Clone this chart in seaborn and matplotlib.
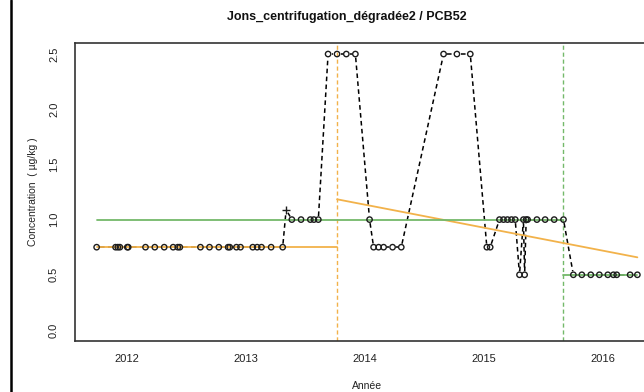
import numpy as np
import pandas as pd
import seaborn as sns
import matplotlib.pyplot as plt
from matplotlib.lines import Line2D

# === Données ===
annees = [
    2011.749, 2011.908, 2011.927, 2011.944, 2012.006, 2012.014, 2012.159, 2012.237,
    2012.316, 2012.391, 2012.430, 2012.447, 2012.620, 2012.696, 2012.774, 2012.852,
    2012.866, 2012.922, 2012.956, 2013.059, 2013.096, 2013.132, 2013.213, 2013.310,
    2013.339,
    2013.387, 2013.464, 2013.542, 2013.572, 2013.609,
    2013.691, 2013.766, 2013.844, 2013.920,
    2014.039, 2014.073, 2014.115, 2014.157, 2014.232, 2014.305,
    2014.660, 2014.772, 2014.884,
    2015.023, 2015.051,
    2015.129, 2015.163, 2015.196, 2015.230, 2015.261, 2015.297, 2015.330, 2015.340,
    2015.353, 2015.365, 2015.443, 2015.512, 2015.588, 2015.666,
    2015.749, 2015.820, 2015.895, 2015.967, 2016.038, 2016.085, 2016.113, 2016.225,
    2016.286,
]
concentrations = [
    0.75, 0.75, 0.75, 0.75, 0.75, 0.75, 0.75, 0.75,
    0.75, 0.75, 0.75, 0.75, 0.75, 0.75, 0.75, 0.75,
    0.75, 0.75, 0.75, 0.75, 0.75, 0.75, 0.75, 0.75,
    1.09,
    1.0, 1.0, 1.0, 1.0, 1.0,
    2.5, 2.5, 2.5, 2.5,
    1.0, 0.75, 0.75, 0.75, 0.75, 0.75,
    2.5, 2.5, 2.5,
    0.75, 0.75,
    1.0, 1.0, 1.0, 1.0, 1.0, 0.5, 1.0, 0.5,
    1.0, 1.0, 1.0, 1.0, 1.0, 1.0,
    0.5, 0.5, 0.5, 0.5, 0.5, 0.5, 0.5, 0.5,
    0.5,
]
# point marqué d'une croix (index dans la série)
idx_croix = [24]

# ruptures
rupture_orange = 2013.766
rupture_verte = 2015.666

# segments orange (tendance)
orange1_x = [2011.749, 2013.766]
orange1_y = [0.75, 0.75]
orange2_x = [2013.766, 2016.286]
orange2_y = [1.184, 0.658]

# segments verts (moyennes)
vert1_x = [2011.749, 2015.666]
vert1_y = [1.0, 1.0]
vert2_x = [2015.666, 2016.286]
vert2_y = [0.5, 0.5]

ANNEES_TICKS = [2012, 2013, 2014, 2015, 2016]
CONC_TICKS = [0.0, 0.5, 1.0, 1.5, 2.0, 2.5]

ORANGE = "#f2b24a"
VERT = "#74b96a"
GAP_PX = 3.6  # espace autour des points, comme type = "b" dans R

sns.set_style("white")
plt.rcParams["font.family"] = ["Liberation Sans", "DejaVu Sans"]

df = pd.DataFrame({"annee": annees, "conc": concentrations})
croix = df.index.isin(idx_croix)

fig = plt.figure(figsize=(6.44, 3.92), dpi=100)
ax = fig.add_axes([75 / 644, 51 / 392, 584 / 644, 298 / 392])
ax.set_xlim(2011.5675, 2016.4675)
ax.set_ylim(-0.1, 2.6)

# lignes verticales de rupture
ax.axvline(rupture_orange, color=ORANGE, lw=1.0, ls=(0, (3, 2)), zorder=1)
ax.axvline(rupture_verte, color=VERT, lw=1.0, ls=(0, (3, 2)), zorder=1)

# série observée : segments pointillés raccourcis autour de chaque point
pix = ax.transData.transform(df[["annee", "conc"]].to_numpy())
inv = ax.transData.inverted()
for i in range(len(pix) - 1):
    p0, p1 = pix[i], pix[i + 1]
    d = p1 - p0
    n = np.hypot(*d)
    if n <= 2 * GAP_PX + 1:
        continue
    u = d / n
    seg = inv.transform(np.array([p0 + u * GAP_PX, p1 - u * GAP_PX]))
    sns.lineplot(x=seg[:, 0], y=seg[:, 1], sort=False, estimator=None,
                 color="black", lw=1.1, ls=(0, (3, 2.2)), ax=ax, zorder=2)

# moyennes / tendances
for xs, ys, c in [(orange1_x, orange1_y, ORANGE), (orange2_x, orange2_y, ORANGE),
                  (vert1_x, vert1_y, VERT), (vert2_x, vert2_y, VERT)]:
    sns.lineplot(x=xs, y=ys, color=c, lw=1.3, ax=ax, zorder=3)

# points
sns.scatterplot(data=df[~croix], x="annee", y="conc", marker="o", s=15,
                facecolor="none", edgecolor="#1c1c1c", linewidth=1.0, ax=ax, zorder=4)
sns.scatterplot(data=df[croix], x="annee", y="conc", marker="+", s=30,
                color="#1c1c1c", linewidth=1.0, ax=ax, zorder=4)

ax.set_xlim(2011.5675, 2016.4675)
ax.set_ylim(-0.1, 2.6)
ax.set_xticks(ANNEES_TICKS)
ax.set_yticks(CONC_TICKS)
ax.set_xticklabels([str(a) for a in ANNEES_TICKS])
ax.set_yticklabels([f"{v:.1f}" for v in CONC_TICKS], rotation=90, va="center")
ax.tick_params(axis="both", direction="out", length=4.5, width=1.0,
               color="#333333", labelsize=8, labelcolor="#222222")
ax.tick_params(axis="x", pad=5)
ax.tick_params(axis="y", pad=7)
for s in ax.spines.values():
    s.set_color("#333333")
    s.set_linewidth(1.2)
ax.set_xlabel("")
ax.set_ylabel("")

fig.text(33 / 644, 1 - 192 / 392, "Concentration  ( µg/kg )", rotation=90,
         ha="center", va="center", fontsize=7.5, color="#222222")
fig.text(367 / 644, 1 - 386 / 392, "Année", ha="center", va="center",
         fontsize=7.5, color="#222222")
fig.text(347 / 644, 1 - 17 / 392, "Jons_centrifugation_dégradée2 / PCB52",
         ha="center", va="center", fontsize=9, fontweight="bold", color="#111111")

fig.add_artist(Line2D([11 / 644, 11 / 644], [0, 1], color="black", lw=1.8,
                      transform=fig.transFigure))

fig.savefig("out.png", dpi=100)
